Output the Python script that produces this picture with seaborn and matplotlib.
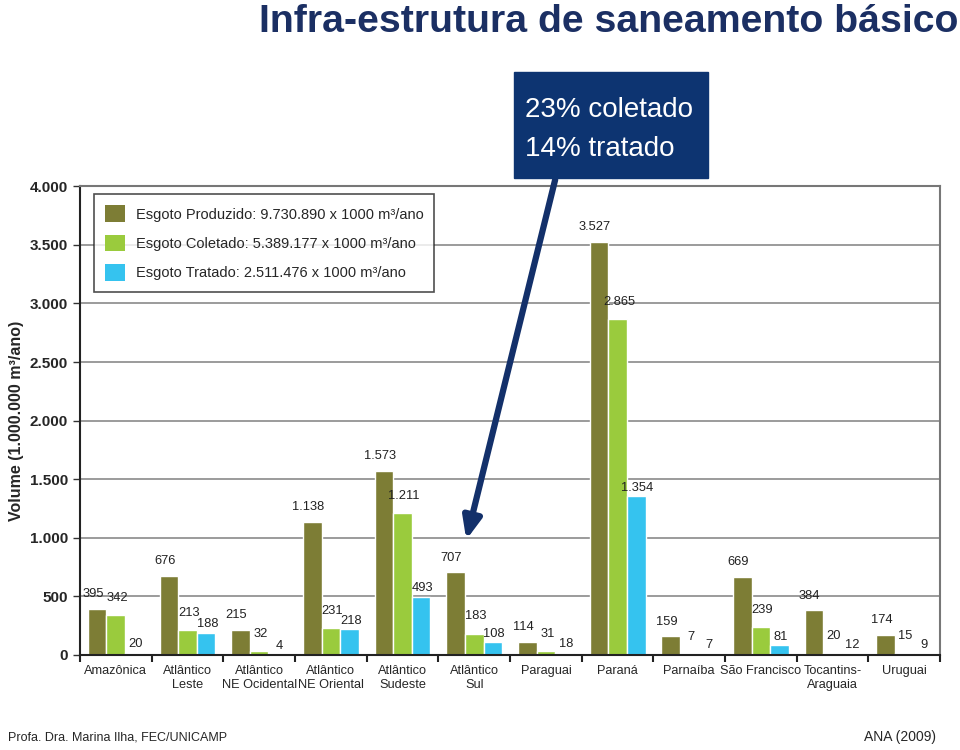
import pandas as pd
import matplotlib.pyplot as plt
import seaborn as sns
from matplotlib.patches import Patch, Rectangle

regions = ['Amazônica', 'Atlântico\nLeste', 'Atlântico\nNE Ocidental', 'Atlântico\nNE Oriental',
           'Atlântico\nSudeste', 'Atlântico\nSul', 'Paraguai', 'Paraná', 'Parnaíba',
           'São Francisco', 'Tocantins-\nAraguaia', 'Uruguai']
produzido = [395, 676, 215, 1138, 1573, 707, 114, 3527, 159, 669, 384, 174]
coletado = [342, 213, 32, 231, 1211, 183, 31, 2865, 7, 239, 20, 15]
tratado = [20, 188, 4, 218, 493, 108, 18, 1354, 7, 81, 12, 9]

series = ['Produzido', 'Coletado', 'Tratado']
legend_labels = ['Esgoto Produzido: 9.730.890 x 1000 m³/ano',
                 'Esgoto Coletado: 5.389.177 x 1000 m³/ano',
                 'Esgoto Tratado: 2.511.476 x 1000 m³/ano']
colors = ['#7d7d35', '#9acb3d', '#35c3ef']
yticks = [0, 500, 1000, 1500, 2000, 2500, 3000, 3500, 4000]

df = pd.DataFrame({
    'regiao': regions * 3,
    'serie': [s for s in series for _ in regions],
    'volume': produzido + coletado + tratado,
})

sns.set_style('white')
plt.rcParams['font.family'] = ['Liberation Sans', 'DejaVu Sans']

fig = plt.figure(figsize=(9.6, 7.5), dpi=100)
ax = fig.add_axes([0.0833, 0.1267, 0.896, 0.625])

sns.barplot(data=df, x='regiao', y='volume', hue='serie', palette=colors,
            width=0.78, saturation=1, ax=ax, legend=False)

def fmt(v):
    return f'{int(round(v)):,}'.replace(',', '.')

# staggered labels as in the original: olive ones nudged left, green ones higher
offsets = [(-3, 6), (1, 8), (1, 2)]
for cont, (dx, dy) in zip(ax.containers, offsets):
    texts = ax.bar_label(cont, labels=[fmt(b.get_height()) for b in cont],
                         fontsize=9.3, color='#222222')
    for t in texts:
        t.xyann = (dx, dy)

ax.set_ylim(0, 4000)
ax.set_xlim(-0.5, len(regions) - 0.5)
ax.set_yticks(yticks)
ax.set_yticklabels([fmt(t) for t in yticks], fontsize=11, fontweight='bold')
ax.yaxis.grid(True, color='#8a8a8a', linewidth=1.2)
ax.set_axisbelow(True)
ax.tick_params(axis='y', length=5, width=1, color='#333333', left=True)
ax.tick_params(axis='x', which='major', length=0, labelsize=9.2, pad=7)
for lbl in ax.get_xticklabels():
    lbl.set_linespacing(1.3)
ax.set_xticks([i - 0.5 for i in range(len(regions) + 1)], minor=True)
ax.tick_params(axis='x', which='minor', length=5, width=1.5, color='#222222', bottom=True)
ax.set_xlabel('')
ax.set_ylabel('Volume (1.000.000 m³/ano)', fontsize=11.5, fontweight='bold', labelpad=4)
for side in ['left', 'bottom']:
    ax.spines[side].set_color('#222222')
    ax.spines[side].set_linewidth(1.5)
for side in ['top', 'right']:
    ax.spines[side].set_color('#777777')
    ax.spines[side].set_linewidth(1.5)

handles = [Patch(facecolor=c, edgecolor='none') for c in colors]
leg = ax.legend(handles, legend_labels, loc='upper left', bbox_to_anchor=(0.008, 0.998),
                fontsize=10.5, frameon=True, fancybox=False, edgecolor='#222222',
                handlelength=1.4, handleheight=1.4, borderpad=0.75, labelspacing=0.85,
                handletextpad=0.7)
leg.get_frame().set_linewidth(1.2)

fig.text(0.998, 0.995, 'Infra-estrutura de saneamento básico', ha='right', va='top',
         fontsize=28.3, fontweight='bold', color='#1b2f63')

ax.annotate('', xy=(4.88, 960), xycoords='data', xytext=(0.579, 0.764),
            textcoords='figure fraction',
            arrowprops=dict(arrowstyle='-|>,head_length=1.3,head_width=0.55',
                            color='#13306a', lw=4.5))

fig.add_artist(Rectangle((514 / 960, 1 - 178 / 750), 194 / 960, 106 / 750,
                         transform=fig.transFigure, facecolor='#0d3471',
                         edgecolor='#0d3471', zorder=5))
fig.text(525 / 960, 1 - 117 / 750, '23% coletado', ha='left', va='baseline',
         fontsize=20, color='white', zorder=6)
fig.text(525 / 960, 1 - 156 / 750, '14% tratado', ha='left', va='baseline',
         fontsize=20, color='white', zorder=6)

fig.text(0.008, 0.008, 'Profa. Dra. Marina Ilha, FEC/UNICAMP', fontsize=9, ha='left', va='bottom')
fig.text(0.975, 0.008, 'ANA (2009)', fontsize=10, ha='right', va='bottom')

fig.savefig('out.png', dpi=100)
